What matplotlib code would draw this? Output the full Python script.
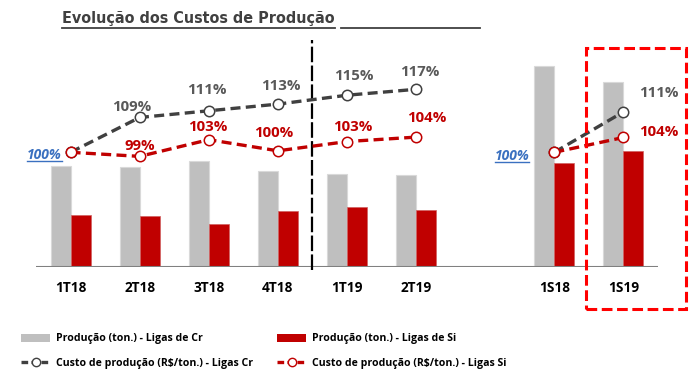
import numpy as np
import matplotlib.pyplot as plt
from matplotlib import font_manager as fm
from matplotlib.lines import Line2D
from matplotlib.patches import Patch, Rectangle

plt.rcParams['font.family'] = ['Open Sans', 'DejaVu Sans']

# data
categories = ["1T18", "2T18", "3T18", "4T18", "1T19", "2T19", "1S18", "1S19"]
prod_cr = [101, 100, 106, 96, 93, 92, 201, 185]
prod_si = [52, 51, 43, 56, 60, 57, 104, 116]
custo_cr_tri = [100, 109.4, 111.2, 113.0, 115.4, 117.0]
custo_si_tri = [100, 98.9, 103.4, 100.4, 102.9, 104.1]
custo_cr_sem = [100, 110.9]
custo_si_sem = [100, 104.0]

GRAY = "#bfbfbf"
RED = "#c00000"
DARK = "#404040"
BLUE = "#3a70c0"

W, H = 700, 380
fig = plt.figure(figsize=(7, 3.8), dpi=100)
ax = fig.add_axes([36 / W, 113 / H, 622 / W, 227 / H])
ax2 = ax.twinx()

# a condensed bold sans for the title, if one is installed
cond = [f for f in fm.fontManager.ttflist
        if ("Condensed" in f.fname or "Narrow" in f.fname) and "Sans" in f.name
        and f.weight in (700, 800, "bold") and f.style == "normal"]
if cond:
    title_font = fm.FontProperties(fname=cond[0].fname)
else:
    title_font = fm.FontProperties(family="Lato", weight="heavy")


def fit_size(text, size, target_px, **kw):
    # font size that makes the text about target_px wide
    t = fig.text(0, 0, text, fontsize=size, **kw)
    w = t.get_window_extent(fig.canvas.get_renderer()).width
    t.remove()
    return size * target_px / w


x = np.array(list(range(6)) + [7, 8])
xt = x[:6]
xs = x[6:]
bw = 0.29

ax.bar(x - bw / 2, prod_cr, bw, color=GRAY, edgecolor="#d9d9d9", linewidth=0.8, zorder=2)
ax.bar(x + bw / 2, prod_si, bw, color=RED, edgecolor="#d06060", linewidth=0.5, zorder=2)
ax.set_xlim(-0.5, 8.5)
ax.set_ylim(0, 227)
ax.axhline(0, color="#808080", lw=1.5, zorder=3)
ax.axvline(3.5, ymin=-0.013, ymax=1, color="black", lw=1.6, dashes=(7, 1.5), zorder=3,
           clip_on=False)

line_kw = dict(lw=2.4, dashes=(3, 1.6), marker="o", markersize=7.5,
               markerfacecolor="white", markeredgewidth=1.1, zorder=5)
ax2.plot(xt, custo_cr_tri, color=DARK, markeredgecolor=DARK, **line_kw)
ax2.plot(xt, custo_si_tri, color=RED, markeredgecolor=RED, **line_kw)
ax2.plot(xs, custo_cr_sem, color=DARK, markeredgecolor=DARK, **line_kw)
ax2.plot(xs, custo_si_sem, color=RED, markeredgecolor=RED, **line_kw)
ax2.set_ylim(69.05, 130.3)

for a in (ax, ax2):
    a.set_yticks([])
    for s in a.spines.values():
        s.set_visible(False)
    a.set_facecolor("none")
ax.set_xticks(x)
ax.set_xticklabels(categories, fontsize=9.8, fontweight="bold")
ax.tick_params(axis="x", length=0, pad=10)

lbl = dict(textcoords="offset pixels", ha="center", va="center",
           fontsize=10.8, fontweight="bold")
cr_off = [None, (-8, 10), (-2, 21), (3, 18), (7, 19), (4, 17)]
si_off = [None, (0, 10), (-1, 13), (-4, 18), (6, 15), (11, 19)]
for i in range(1, 6):
    ax2.annotate(f"{custo_cr_tri[i]:.0f}%", (xt[i], custo_cr_tri[i]),
                 xytext=cr_off[i], color="#595959", **lbl)
    ax2.annotate(f"{custo_si_tri[i]:.0f}%", (xt[i], custo_si_tri[i]),
                 xytext=si_off[i], color=RED, **lbl)
ax2.annotate(f"{custo_cr_sem[1]:.0f}%", (xs[1], custo_cr_sem[1]),
             xytext=(35, 19), color="#595959", **lbl)
ax2.annotate(f"{custo_si_sem[1]:.0f}%", (xs[1], custo_si_sem[1]),
             xytext=(35, 5), color=RED, **lbl)

base_lbls = [
    ax2.annotate(f"{custo_cr_tri[0]:.0f}%", (xt[0], custo_cr_tri[0]), xytext=(-9, -3),
                 textcoords="offset pixels", ha="right", va="center", fontsize=10,
                 fontweight="bold", style="italic", color=BLUE),
    ax2.annotate(f"{custo_cr_sem[0]:.0f}%", (xs[0], custo_cr_sem[0]), xytext=(-25, -4),
                 textcoords="offset pixels", ha="right", va="center", fontsize=10,
                 fontweight="bold", style="italic", color=BLUE),
]

title_txt = "Evolução dos Custos de Produção"
tsize = fit_size(title_txt, 14, 274, fontproperties=title_font)
title_font.set_size(tsize)
title = fig.text(62 / W, 1 - 19 / H, title_txt, ha="left", va="center",
                 fontproperties=title_font, color=DARK)

# legend, one block per column
labels_l = ["Produção (ton.) - Ligas de Cr", "Custo de produção (R$/ton.) - Ligas Cr"]
labels_r = ["Produção (ton.) - Ligas de Si", "Custo de produção (R$/ton.) - Ligas Si"]
lsize = fit_size(labels_l[1], 9, 195, fontweight="bold")
fpx = lsize * 100 / 72


def legend_block(color, lcolor, labels, x0):
    hs = [Patch(facecolor=color, edgecolor="none"),
          Line2D([], [], color=lcolor, lw=2.4, dashes=(2, 1), marker="o", markersize=6,
                 markerfacecolor="white", markeredgecolor=lcolor)]
    fig.legend(hs, labels, loc="center left", bbox_to_anchor=(x0 / W, 1 - 351 / H),
               frameon=False, borderpad=0, borderaxespad=0,
               prop={"weight": "bold", "size": lsize},
               handlelength=29 / fpx, handleheight=0.8, handletextpad=6 / fpx,
               labelspacing=1.3)


legend_block(GRAY, DARK, labels_l, 21)
legend_block(RED, RED, labels_r, 277)

# dashed highlight box around 1S19
fig.patches.append(Rectangle((586 / W, 1 - 309 / H), 100 / W, 261 / H,
                             transform=fig.transFigure, fill=False, edgecolor="#ff0000",
                             lw=2.2, linestyle=(0, (3.5, 1.5))))

# underlines
fig.canvas.draw()
r = fig.canvas.get_renderer()
bb = title.get_window_extent(r)
y_ul = bb.y0 - 1
fig.add_artist(Line2D([bb.x0 / W, bb.x1 / W], [y_ul / H, y_ul / H], color=DARK, lw=1.3,
                      transform=fig.transFigure))
fig.add_artist(Line2D([(bb.x1 + 6) / W, 480 / W], [y_ul / H, y_ul / H], color=DARK, lw=1.3,
                      transform=fig.transFigure))
for t in base_lbls:
    b = t.get_window_extent(r)
    fig.add_artist(Line2D([b.x0 / W, b.x1 / W], [(b.y0 + 1) / H, (b.y0 + 1) / H],
                          color=BLUE, lw=1.0, transform=fig.transFigure))

fig.savefig("out.png", dpi=100)
